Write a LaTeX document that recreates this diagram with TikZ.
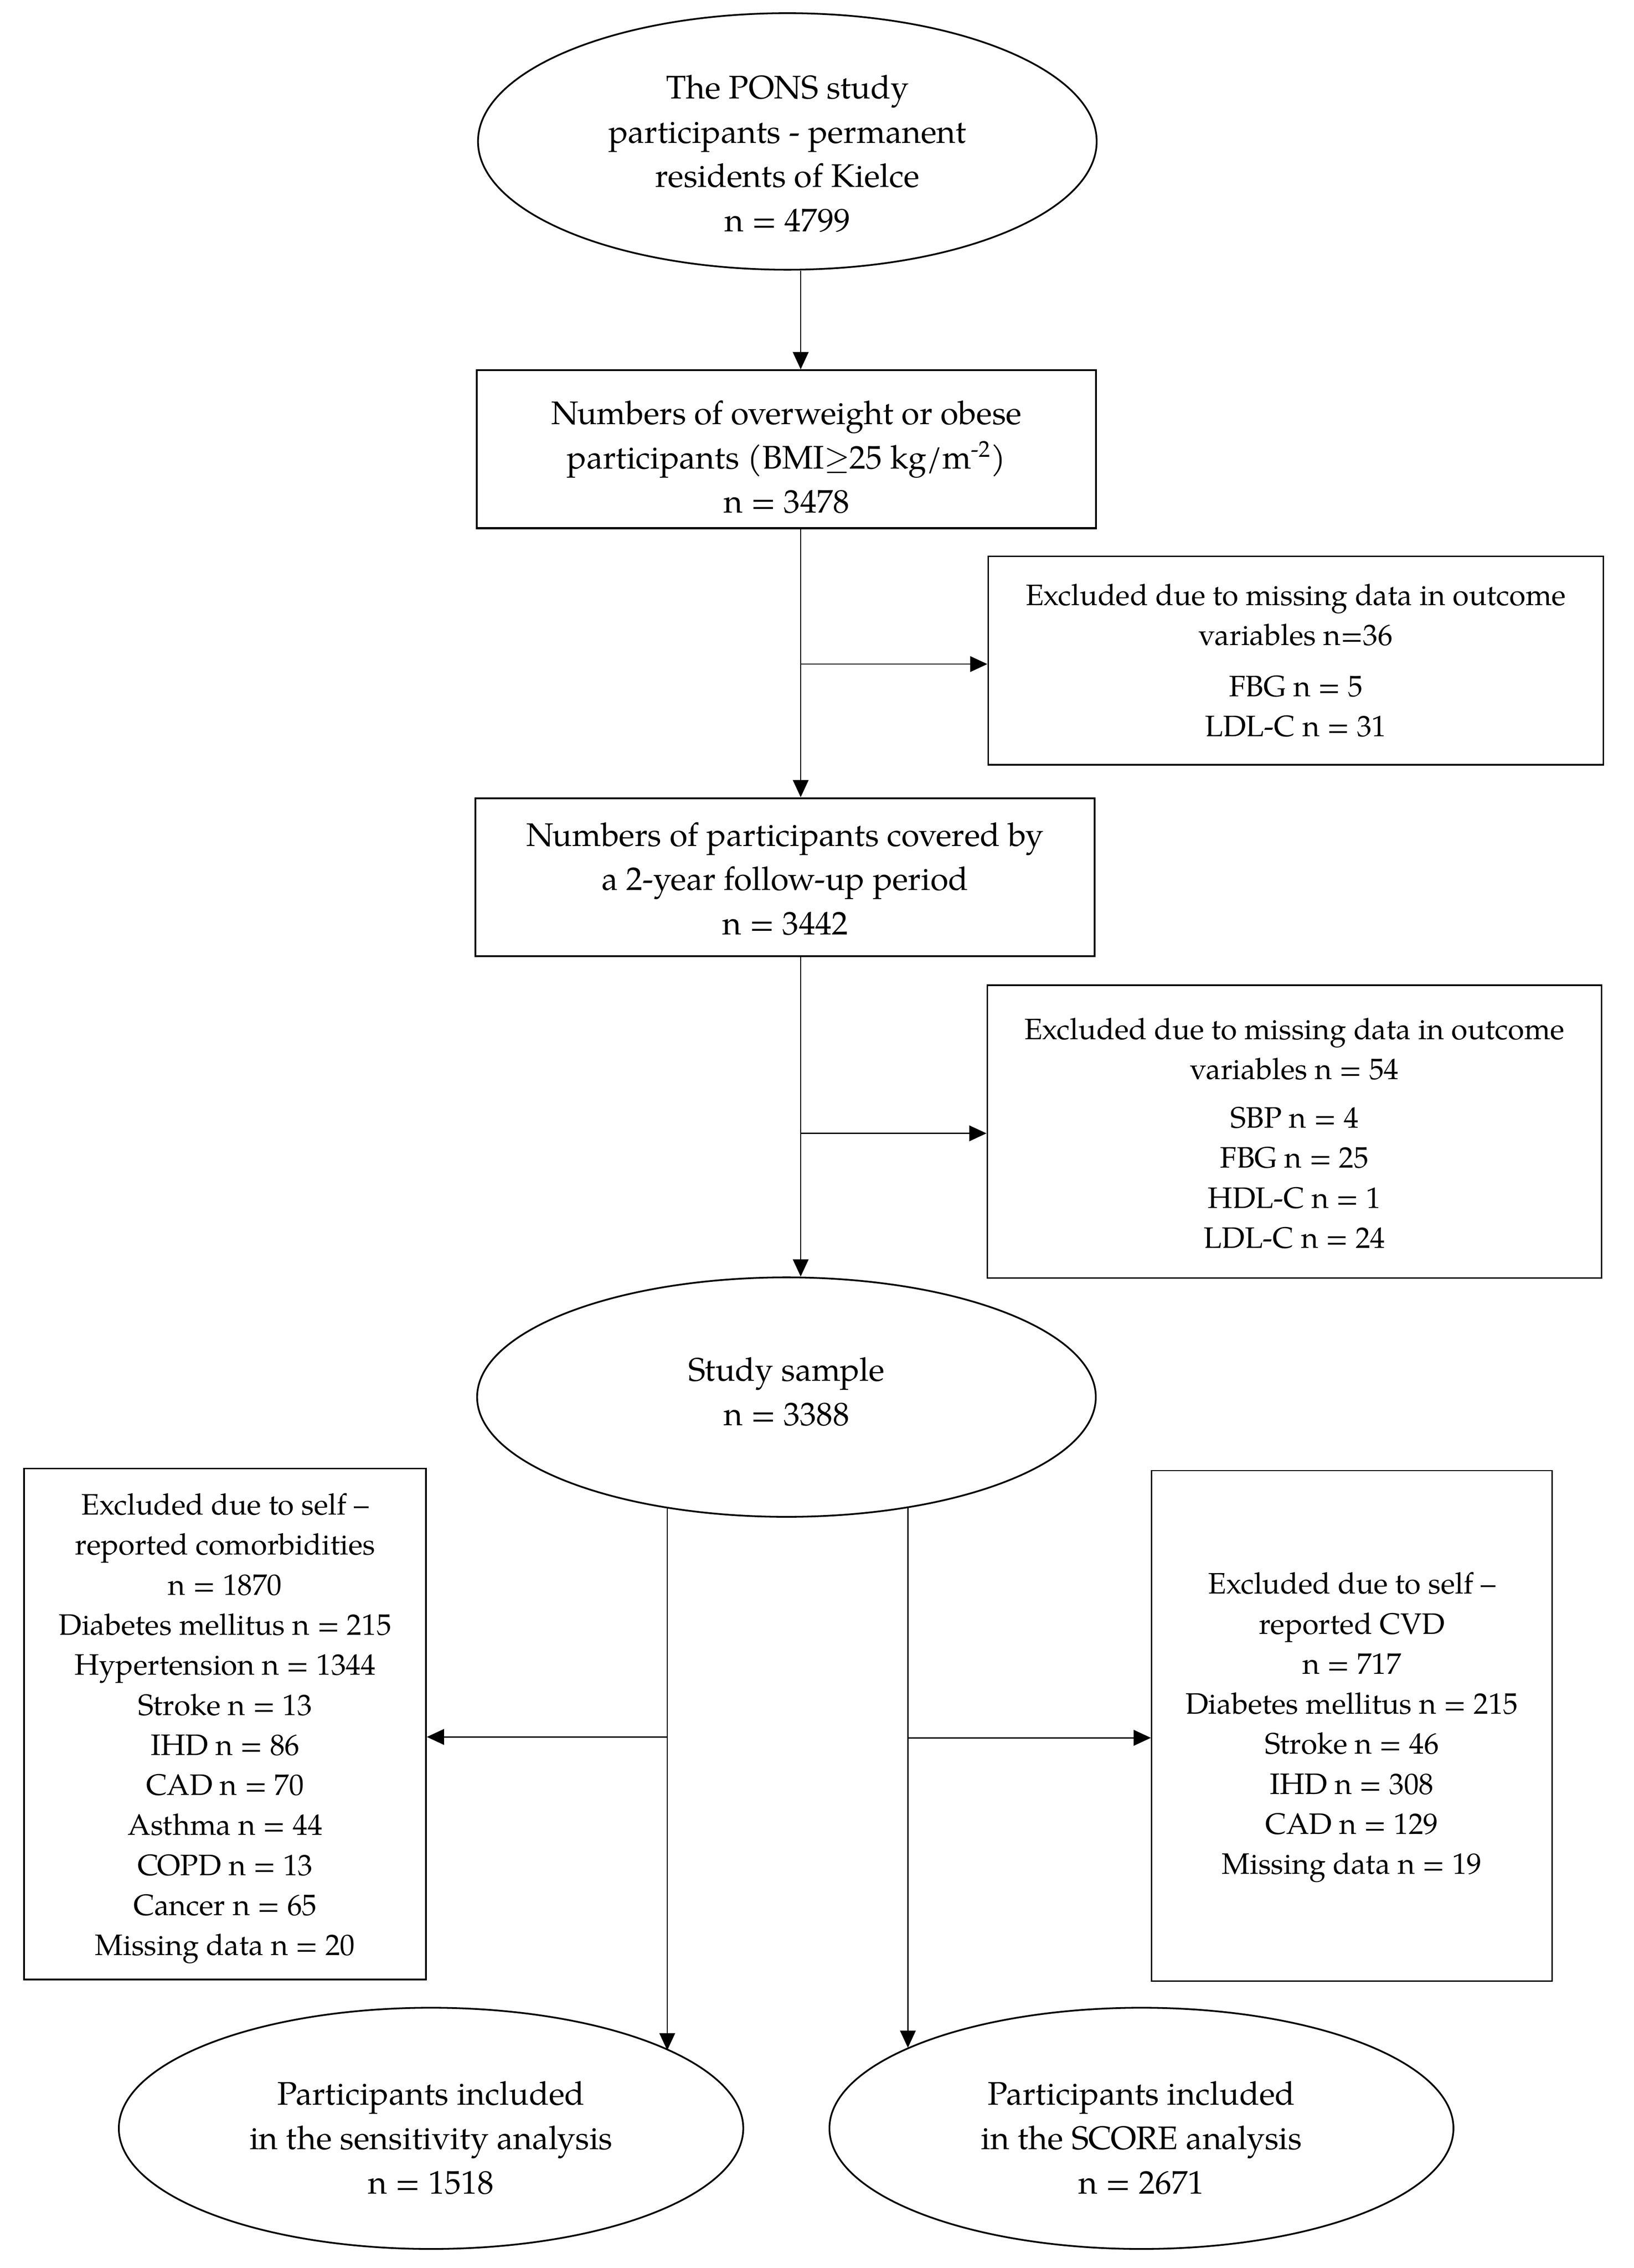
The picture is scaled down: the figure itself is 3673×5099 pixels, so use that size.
\documentclass[tikz,border=0pt]{standalone}
\usepackage{fontspec}
\setmainfont{TeX Gyre Pagella}
\usetikzlibrary{shapes.geometric,arrows.meta,backgrounds}

\newcommand{\bigfont}{\fontsize{20.9pt}{28.3pt}\selectfont}
\newcommand{\smallfont}{\fontsize{18.9pt}{25.6pt}\selectfont}
\newcommand{\topx}[1]{\rule{0pt}{\dimexpr0.73em+#1\relax}}
\newcommand{\botx}[1]{\rule[-#1]{0pt}{0pt}}

\begin{document}
\begin{tikzpicture}[x=0.01cm,y=-0.01cm,
  ell/.style={ellipse, draw, line width=1.1pt, fill=white, inner sep=0pt,
    minimum width=13.9cm, minimum height=5.38cm, align=center, font=\bigfont},
  mainbox/.style={rectangle, draw, line width=1.2pt, fill=white, inner sep=0pt,
    minimum width=13.91cm, minimum height=3.55cm, align=center, font=\bigfont},
  exbox/.style={rectangle, draw, line width=1.1pt, fill=white, inner sep=0pt,
    align=center, font=\smallfont},
  arr/.style={line width=0.8pt, -{Triangle[length=11pt,width=10pt]}},
  ln/.style={line width=0.8pt}]

\useasboundingbox (0,0) rectangle (3673,5099);

% main flow
\node[ell] (top) at (1770,318)
  {\topx{15.4pt}The PONS study\\participants - permanent\\residents of Kielce\\n = 4799};
\node[mainbox] (box1) at (1768,1010)
  {\topx{10pt}Numbers of overweight or obese\\participants (BMI$\geq$25 kg/m\textsuperscript{-2})\\n = 3478};
\node[exbox, minimum width=13.82cm, minimum height=4.68cm] (ex1) at (2913,1485)
  {Excluded due to missing data in outcome\\variables n=36\\[7pt]FBG n = 5\\LDL-C n = 31};
\node[mainbox] (box2) at (1765,1972)
  {\topx{2pt}Numbers of participants covered by\\a 2-year follow-up period\\n = 3442};
\node[exbox, minimum width=13.8cm, minimum height=6.58cm] (ex2) at (2910,2544)
  {\topx{2pt}Excluded due to missing data in outcome\\variables n = 54\\[5.5pt]SBP n = 4\\FBG n = 25\\HDL-C n = 1\\LDL-C n = 24};
\node[ell] (study) at (1768,3141)
  {Study sample\\n = 3388\botx{7.4pt}};

% exclusion boxes bottom
\node[exbox, line width=1pt, minimum width=9.03cm, minimum height=11.48cm] (lbox) at (506,3876)
  {\topx{5.7pt}Excluded due to self --\\reported comorbidities\\n = 1870\\Diabetes mellitus n = 215\\Hypertension n = 1344\\Stroke n = 13\\IHD n = 86\\CAD n = 70\\Asthma n = 44\\COPD n = 13\\Cancer n = 65\\Missing data n = 20};
\node[exbox, line width=0.8pt, minimum width=9.0cm, minimum height=11.47cm] (rbox) at (3039,3880)
  {\topx{2pt}Excluded due to self --\\reported CVD\\n = 717\\Diabetes mellitus n = 215\\Stroke n = 46\\IHD n = 308\\CAD n = 129\\Missing data n = 19};

% final ellipses
\node[ell, minimum width=14.03cm, minimum height=5.42cm] (lell) at (969,4785)
  {\topx{12pt}Participants included\\in the sensitivity analysis\\n = 1518};
\node[ell, minimum width=14.02cm, minimum height=5.42cm] (rell) at (2566,4785)
  {\topx{12pt}Participants included\\in the SCORE analysis\\n = 2671};

% connectors
\coordinate (cx) at (1800,0);
\coordinate (b1) at (1800,1493);
\coordinate (b2) at (1800,2548);
\coordinate (lx) at (1500,0);
\coordinate (rx) at (2041,0);
\coordinate (hl) at (1500,3905);
\coordinate (hr) at (2041,3907);

\draw[arr] (top.south -| cx) -- (box1.north -| cx);
\draw[arr] (box1.south -| cx) -- (box2.north -| cx);
\draw[arr] (b1) -- (ex1.west |- b1);
\draw[arr] (box2.south -| cx) -- (study.north -| cx);
\draw[arr] (b2) -- (ex2.west |- b2);
\draw[arr] (hl) -- (lbox.east |- hl);
\draw[arr] (hr) -- (rbox.west |- hr);

\begin{scope}[on background layer]
  \fill[white] (0,0) rectangle (3673,5099);
  \draw[arr] (study.center -| lx) -- (lell.18.4 -| lx);
  \draw[arr] (study.center -| rx) -- (rell.161.1 -| rx);
\end{scope}
\end{tikzpicture}
\end{document}
